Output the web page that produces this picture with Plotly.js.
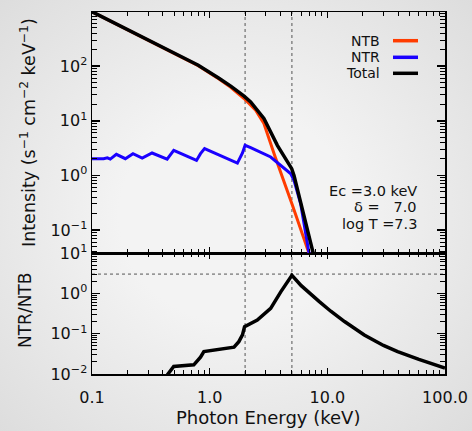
<!DOCTYPE html>
<html><head><meta charset="utf-8">
<script src="https://cdn.plot.ly/plotly-3.0.1.min.js"></script>
<style>
html,body{margin:0;padding:0;}
body{width:472px;height:431px;overflow:hidden;background:radial-gradient(ellipse at 50% 50%, #f3f3f3 35%, #dddddd 100%);}
#chart{width:472px;height:431px;}
</style>
</head><body><div id="chart"></div>
<script>
// ---- data ----
const ntbEnergy = [0.1, 0.2, 0.4, 0.8, 1.2, 1.51, 1.96, 2.46, 2.89, 3.6, 5.06, 7.0, 7.4];
const ntbValue  = [988, 468, 223, 102, 58, 41, 25.5, 15.6, 8.9, 2.2, 0.28, 0.037, 0.02];

const ntrEnergy = [0.1, 0.1255, 0.135, 0.143, 0.161, 0.192, 0.223, 0.267, 0.324, 0.435, 0.495, 0.773, 0.836, 0.905, 1.72, 1.90, 2.0, 2.23, 3.30, 4.02, 4.89, 5.21, 5.94, 7.0, 7.4];
const ntrValue  = [2.02, 2.02, 2.1, 1.99, 2.43, 2.02, 2.50, 2.07, 2.57, 1.99, 2.88, 1.88, 2.50, 3.09, 1.68, 2.57, 3.55, 3.22, 2.17, 1.52, 1.07, 0.81, 0.30, 0.037, 0.018];

const totalEnergy = [0.1, 0.2, 0.4, 0.8, 1.2, 1.51, 1.96, 2.23, 2.89, 3.76, 4.98, 5.21, 7.59, 7.95];
const totalValue  = [990, 470, 225, 104, 60, 43, 28.2, 22.1, 11.0, 3.55, 1.33, 1.0, 0.0375, 0.02];

const ratioEnergy = [0.43, 0.44, 0.495, 0.733, 0.836, 0.893, 1.61, 1.77, 1.90, 1.98, 2.54, 3.30, 4.02, 4.5, 5.0, 6.0, 7.0, 8.5, 10.7, 14, 20.6, 30, 39.6, 60, 100];
const ratioValue  = [0.008, 0.0098, 0.0153, 0.0169, 0.0261, 0.036, 0.0461, 0.0634, 0.093, 0.149, 0.218, 0.424, 1.09, 1.75, 2.81, 1.55, 1.02, 0.63, 0.36, 0.2, 0.093, 0.051, 0.036, 0.023, 0.014];

const markerEnergies = [2.0, 5.0];
const ratioLevel = 3.0;

const xTickVals = [0.1, 1, 10, 100];
const xTickText = ['0.1', '1.0', '10.0', '100.0'];
const topTickVals = [0.1, 1, 10, 100];
const topTickText = ['10<sup>\u22121</sup>', '10<sup>0</sup>', '10<sup>1</sup>', '10<sup>2</sup>'];
const botTickVals = [0.01, 0.1, 1, 10];
const botTickText = ['10<sup>\u22122</sup>', '10<sup>\u22121</sup>', '10<sup>0</sup>', '10<sup>1</sup>'];
const decades = [0.01, 0.1, 1, 10, 100];
const minorDigits = [2, 3, 4, 5, 6, 7, 8, 9];

const seriesNames = ['NTB', 'NTR', 'Total'];
const seriesColors = ['#ff3c00', '#1a00ff', '#000000'];
const paramLines = ['Ec =3.0 keV', '\u03b4 =\u00a0\u00a0\u00a07.0', 'log T =7.3'];
const xTitle = 'Photon Energy (keV)';
const topYTitle = 'Intensity (s<sup>\u22121</sup> cm<sup>\u22122</sup> keV<sup>\u22121</sup>)';
const botYTitle = 'NTR/NTB';

// ---- layout geometry (pixels) ----
const W = 472, H = 431, ML = 92, MR = 27, MT = 12, MB = 57;
const PW = W - ML - MR, PH = H - MT - MB;
const px = x => (x - ML) / PW;
const py = y => (H - MB - y) / PH;
const split = 121 / PH;
const FONT = 'DejaVu Sans, Liberation Sans, Arial, sans-serif';

const minorVals = [];
decades.forEach(d => minorDigits.forEach(k => minorVals.push(k * d)));

const traces = [
  {x: ntbEnergy, y: ntbValue, xaxis: 'x2', yaxis: 'y2', mode: 'lines', line: {color: seriesColors[0], width: 3}, hoverinfo: 'skip'},
  {x: ntrEnergy, y: ntrValue, xaxis: 'x2', yaxis: 'y2', mode: 'lines', line: {color: seriesColors[1], width: 3}, hoverinfo: 'skip'},
  {x: totalEnergy, y: totalValue, xaxis: 'x2', yaxis: 'y2', mode: 'lines', line: {color: seriesColors[2], width: 3.5}, hoverinfo: 'skip'},
  {x: ratioEnergy, y: ratioValue, xaxis: 'x', yaxis: 'y', mode: 'lines', line: {color: '#000', width: 3.5}, hoverinfo: 'skip'}
];

const base = {
  type: 'log', showgrid: false, zeroline: false,
  showline: true, linecolor: '#000', linewidth: 1.5, mirror: 'allticks',
  ticks: 'inside', tickwidth: 1.5, tickcolor: '#000'
};
const xMinor = {ticks: 'inside', ticklen: 4, tickcolor: '#000', tickwidth: 1, tickvals: minorVals, showgrid: false};
const yMinor = {ticks: 'inside', ticklen: 5, tickcolor: '#000', tickwidth: 1, tickvals: minorVals, showgrid: false};

const topRange = [-1.42, 2.99], botRange = [-2, 1], xRange = [-1, 2];

const shapes = [];
markerEnergies.forEach(e => {
  shapes.push({type: 'line', xref: 'x', yref: 'paper', x0: e, x1: e, y0: 0, y1: 1, layer: 'below',
    line: {color: '#555', width: 1, dash: 'dot'}});
});
shapes.push({type: 'line', xref: 'paper', yref: 'y', x0: 0, x1: 1, y0: ratioLevel, y1: ratioLevel, layer: 'below',
  line: {color: '#555', width: 1, dash: 'dot'}});

const annotations = [];
const legY = [40.7, 57.3, 73.3];
seriesNames.forEach((n, i) => {
  annotations.push({xref: 'paper', yref: 'paper', x: px(382), y: py(legY[i]), xanchor: 'right', yanchor: 'middle',
    text: n, showarrow: false, font: {family: FONT, size: 14, color: '#111'}});
  shapes.push({type: 'line', xref: 'paper', yref: 'paper', x0: px(393), x1: px(418), y0: py(legY[i]), y1: py(legY[i]),
    line: {color: seriesColors[i], width: 3.5}});
});
const parY = [190.7, 207.3, 224];
paramLines.forEach((t, i) => {
  annotations.push({xref: 'paper', yref: 'paper', x: px(419), y: py(parY[i]), xanchor: 'right', yanchor: 'middle',
    text: t, showarrow: false, font: {family: FONT, size: 14.5, color: '#111'}});
});
annotations.push({xref: 'paper', yref: 'paper', x: px(28), y: py(133), xanchor: 'center', yanchor: 'middle',
  textangle: -90, text: topYTitle, showarrow: false, font: {family: FONT, size: 17.5, color: '#111'}});
annotations.push({xref: 'paper', yref: 'paper', x: px(25), y: py(311), xanchor: 'center', yanchor: 'middle',
  textangle: -90, text: botYTitle, showarrow: false, font: {family: FONT, size: 17, color: '#111'}});
annotations.push({xref: 'paper', yref: 'paper', x: px(268), y: py(417), xanchor: 'center', yanchor: 'middle',
  text: xTitle, showarrow: false, font: {family: FONT, size: 18, color: '#111'}});

const tickFont = {family: FONT, size: 16, color: '#111'};

const layout = {
  width: W, height: H, margin: {l: ML, r: MR, t: MT, b: MB},
  paper_bgcolor: 'rgba(0,0,0,0)', plot_bgcolor: 'rgba(0,0,0,0)',
  showlegend: false, font: {family: FONT, color: '#111'},
  xaxis: Object.assign({}, base, {anchor: 'y', range: xRange, ticklen: 6, tickvals: xTickVals, ticktext: xTickText,
    tickfont: tickFont, ticklabelstandoff: 8, minor: xMinor}),
  xaxis2: Object.assign({}, base, {anchor: 'y2', range: xRange, ticklen: 6, tickvals: xTickVals, showticklabels: false, minor: xMinor}),
  yaxis: Object.assign({}, base, {domain: [0, split], anchor: 'x', range: botRange, ticklen: 8,
    tickvals: botTickVals, ticktext: botTickText, tickfont: tickFont, minor: yMinor}),
  yaxis2: Object.assign({}, base, {domain: [split, 1], anchor: 'x2', range: topRange, ticklen: 8,
    tickvals: topTickVals, ticktext: topTickText, tickfont: tickFont, minor: yMinor}),
  shapes: shapes, annotations: annotations
};

Plotly.newPlot('chart', traces, layout, {staticPlot: true, displayModeBar: false});
</script></body></html>
